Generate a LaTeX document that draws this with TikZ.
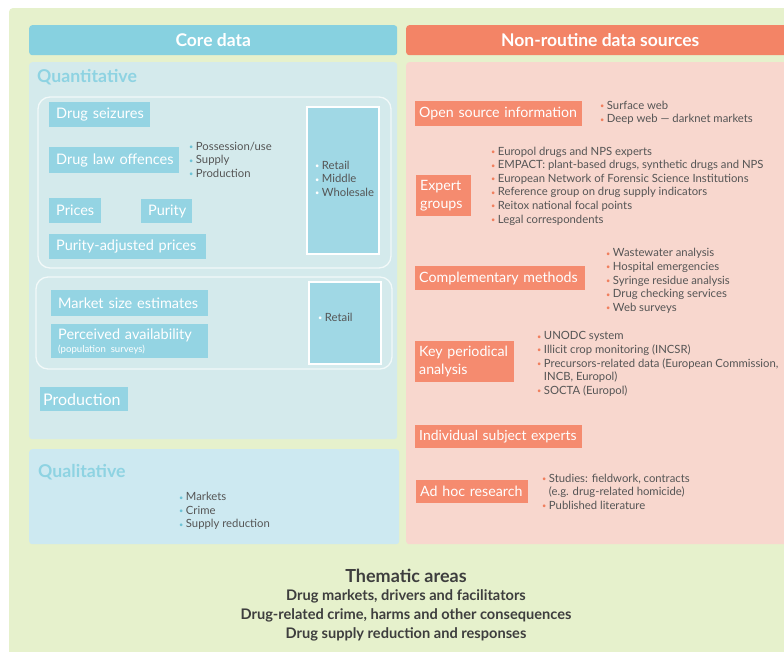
\documentclass[tikz,border=0pt]{standalone}
\usepackage{fontspec}
\setmainfont{Lato}
\definecolor{bgg}{HTML}{E6F1CC}
\definecolor{hcyan}{HTML}{87D1E0}
\definecolor{qpanel}{HTML}{D4EAEC}
\definecolor{qlpanel}{HTML}{CDE9F1}
\definecolor{cbox}{HTML}{94D4E3}
\definecolor{rbox}{HTML}{A0D8E5}
\definecolor{qtitle}{HTML}{8ED3E2}
\definecolor{horange}{HTML}{F38466}
\definecolor{opanel}{HTML}{F8D7CE}
\definecolor{obox}{HTML}{F58B6F}
\definecolor{obul}{HTML}{F07F5E}
\definecolor{cbul}{HTML}{6FC3D6}
\definecolor{gtext}{HTML}{555555}
\definecolor{dtext}{HTML}{3E3E3E}
\newcommand{\bulc}[1]{\textcolor{#1}{\raisebox{0.6pt}{\scalebox{0.65}{•}}}\hspace{2.5pt}}
\newcommand{\bx}[8]{\node[#1, minimum width=#5pt, minimum height=#6pt, text width=#5pt] (#2) at (#3,#4) {\leftskip=#7pt\relax\rightskip=-30pt plus 1fil\relax\hyphenpenalty=10000\relax #8\par};}
\tikzset{
  panel/.style={rounded corners=3pt, inner sep=0pt},
  header/.style={text=white, font=\fontsize{17.5}{20}\selectfont\bfseries, rounded corners=3pt},
  cyanbox/.style={fill=cbox, text=white, font=\fontsize{14.5}{17}\selectfont, inner sep=0pt, anchor=north west, align=left},
  orbox/.style={fill=obox, text=white, font=\fontsize{14.2}{18}\selectfont, inner sep=0pt, anchor=north west, align=left},
  rtbox/.style={fill=rbox, draw=white, line width=1.5pt, anchor=north west, inner sep=0pt},
  grp/.style={draw=white!70!qpanel, line width=1.3pt, rounded corners=12pt},
  blist/.style={text=gtext, font=\fontsize{11.3}{13.6}\selectfont, align=left, anchor=west, inner sep=0pt},
  ptitle/.style={text=qtitle, font=\fontsize{17.7}{20}\selectfont\bfseries, anchor=west, inner sep=0pt},
}
\begin{document}
\begin{tikzpicture}[x=1pt,y=-1pt]
\useasboundingbox (0,0) rectangle (784,651);
\fill[bgg, rounded corners=4pt] (9,8) rectangle (800,670);
% headers
\node[header, fill=hcyan, minimum width=368pt, minimum height=30pt, anchor=north west] (core) at (29,25) {Core data};
\node[header, fill=horange, minimum width=388pt, minimum height=30pt, anchor=north west] (nonr) at (406,25) {Non-routine data sources};
% panels
\node[panel, fill=qpanel, minimum width=368pt, minimum height=377pt, anchor=north west] (quant) at (29,62) {};
\node[panel, fill=qlpanel, minimum width=370pt, minimum height=95pt, anchor=north west] (qual) at (29,449) {};
\node[panel, fill=opanel, minimum width=394pt, minimum height=482pt, anchor=north west] (nonp) at (406,62) {};
\node[ptitle] (quantt) at (37,77) {Quantitative};
\node[ptitle] (qualt) at (38,472) {Qualitative};
% groups
\draw[grp] (38,97) rectangle (391,268);
\draw[grp] (36,277) rectangle (392,369);
% cyan boxes
\bx{cyanbox}{seiz}{49}{102}{101}{25}{7}{Drug seizures}
\bx{cyanbox}{dlo}{49}{147}{130}{26}{7}{Drug law offences}
\bx{cyanbox}{prices}{49}{198}{52}{25}{7}{Prices}
\bx{cyanbox}{purity}{141}{199}{51}{24}{7}{Purity}
\bx{cyanbox}{pap}{49}{234}{157}{25}{7}{Purity-adjusted prices}
\bx{cyanbox}{mse}{51}{290}{157}{26}{7}{Market size estimates}
\bx{cyanbox}{pav}{51}{324}{157}{34}{7}{Perceived availability\\[-4pt]{\fontsize{9.6}{11}\selectfont (population surveys)}}
\bx{cyanbox, font=\fontsize{16}{18}\selectfont}{prod}{40}{387}{88}{24}{3}{Production}
\node[rtbox, minimum width=72pt, minimum height=147pt] (rb1) at (306,106) {};
\node[rtbox, minimum width=72pt, minimum height=82pt] (rb2) at (308,281) {};
% lists (core)
\node[blist] (offl) at (189,159.5) {\bulc{cbul}Possession/use\\\bulc{cbul}Supply\\\bulc{cbul}Production};
\node[blist] (rb1l) at (315,178.5) {\bulc{white}Retail\\\bulc{white}Middle\\\bulc{white}Wholesale};
\node[blist] (rb2l) at (318,317) {\bulc{white}Retail};
\node[blist] (quall) at (179,511) {\bulc{cbul}Markets\\\bulc{cbul}Crime\\\bulc{cbul}Supply reduction};
% orange boxes
\bx{orbox}{osi}{415}{101}{167}{25}{4}{Open source information}
\bx{orbox}{exg}{416}{175}{55}{41}{4}{Expert\\groups}
\bx{orbox}{cme}{415}{266}{170}{24}{4}{Complementary methods}
\bx{orbox}{kpa}{415}{341}{99}{41}{4}{Key periodical\\analysis}
\bx{orbox, font=\fontsize{13.9}{18}\selectfont}{ise}{415}{425}{167}{23}{4}{Individual subject experts}
\bx{orbox}{ahr}{416}{480}{112}{23}{4}{Ad hoc research}
% lists (non-routine)
\node[blist] (osil) at (600,113) {\bulc{obul}Surface web\\\bulc{obul}Deep web — darknet markets};
\node[blist] (exgl) at (491,186) {\bulc{obul}Europol drugs and NPS experts\\\bulc{obul}EMPACT: plant-based drugs, synthetic drugs and NPS\\\bulc{obul}European Network of Forensic Science Institutions\\\bulc{obul}Reference group on drug supply indicators\\\bulc{obul}Reitox national focal points\\\bulc{obul}Legal correspondents};
\node[blist] (cmel) at (606,281) {\bulc{obul}Wastewater analysis\\\bulc{obul}Hospital emergencies\\\bulc{obul}Syringe residue analysis\\\bulc{obul}Drug checking services\\\bulc{obul}Web surveys};
\node[blist] (kpal) at (537,364) {\bulc{obul}UNODC system\\\bulc{obul}Illicit crop monitoring (INCSR)\\\bulc{obul}Precursors-related data (European Commission,\\\hphantom{\bulc{obul}}INCB, Europol)\\\bulc{obul}SOCTA (Europol)};
\node[blist] (ahrl) at (542,491.5) {\bulc{obul}Studies: fieldwork, contracts\\\hphantom{\bulc{obul}}(e.g. drug-related homicide)\\\bulc{obul}Published literature};
% thematic areas
\node[text=dtext, font=\fontsize{18}{21}\selectfont\bfseries, inner sep=0pt] (thm) at (406,576) {Thematic areas};
\node[text=dtext, font=\fontsize{14.6}{19}\selectfont\bfseries, align=center, inner sep=0pt, anchor=north] (thml) at (406,589) {Drug markets, drivers and facilitators\\Drug-related crime, harms and other consequences\\Drug supply reduction and responses};
\end{tikzpicture}
\end{document}
